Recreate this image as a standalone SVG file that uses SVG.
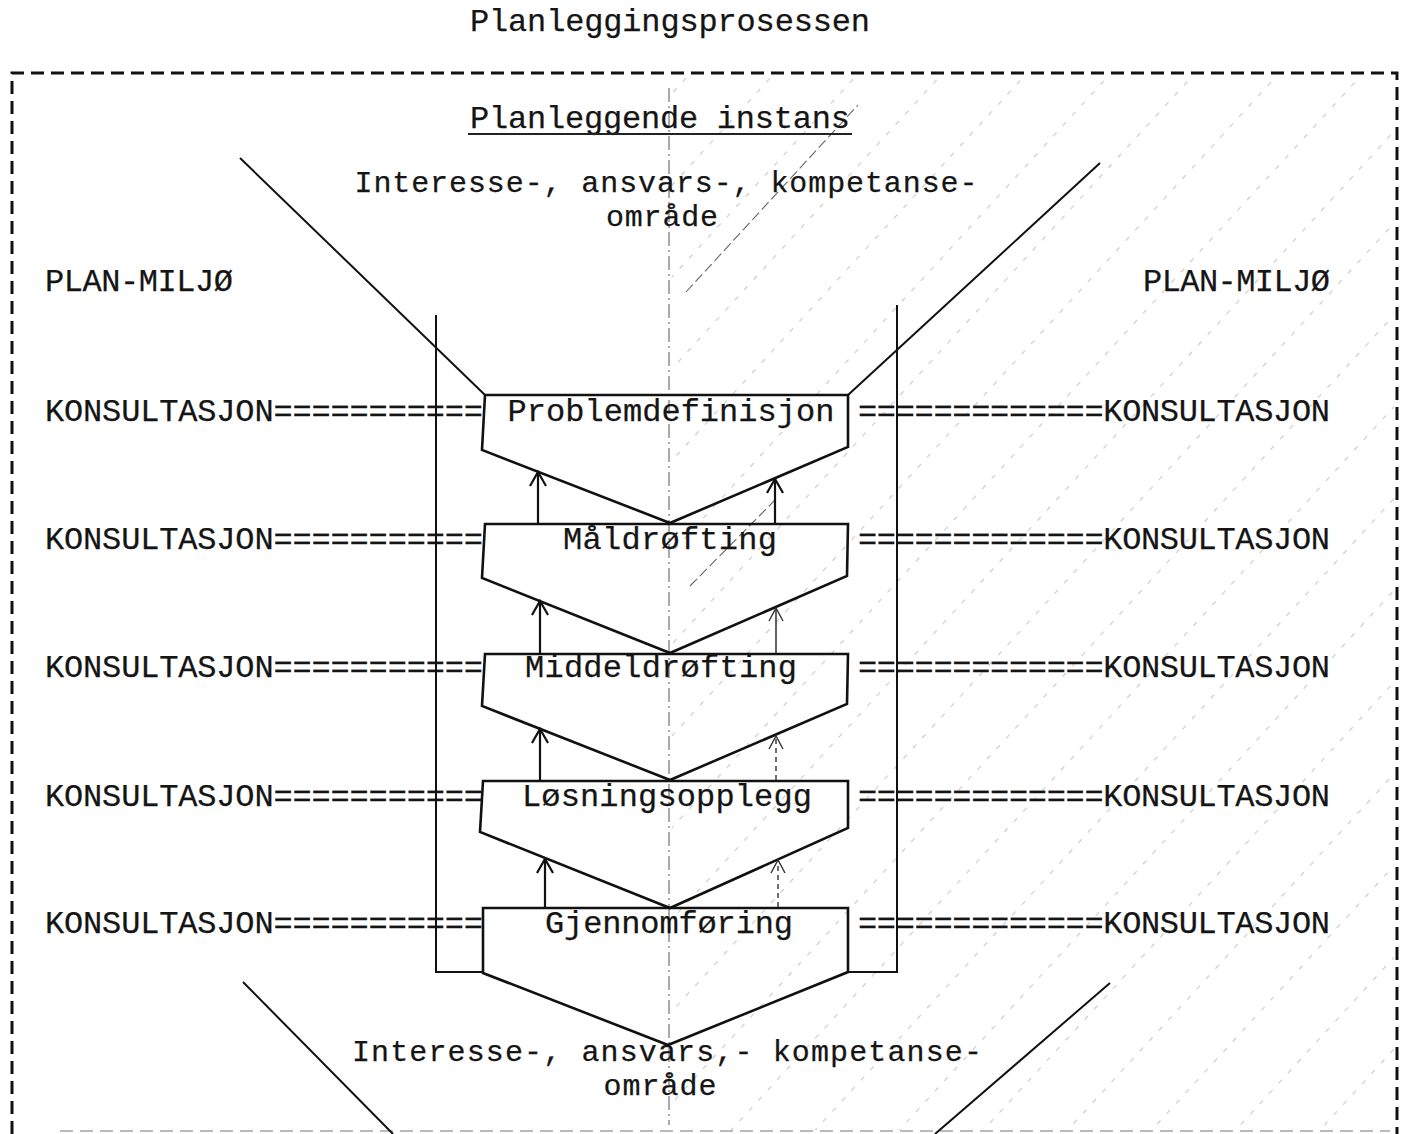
<svg xmlns="http://www.w3.org/2000/svg" width="1408" height="1134" viewBox="0 0 1408 1134">
<defs>
<style>
.t{font-family:"Liberation Mono","DejaVu Sans Mono",monospace;font-size:32px;fill:#151515;stroke:#151515;stroke-width:0.25;}
.t2{font-size:30px;}
.box{fill:none;stroke:#111;stroke-width:2.6;stroke-linejoin:miter;}
.ln{fill:none;stroke:#111;stroke-width:2;}
.arr{fill:none;stroke:#111;stroke-width:2.2;marker-end:url(#ah);}
.arrthin{fill:none;stroke:#222;stroke-width:1.4;marker-end:url(#ahthin);}
.arrdash{fill:none;stroke:#333;stroke-width:1.4;stroke-dasharray:5 4;marker-end:url(#ahthin);}
.border{fill:none;stroke:#111;stroke-width:3;stroke-dasharray:13 7;}
.center{fill:none;stroke:#555;stroke-width:1;stroke-dasharray:14 4 2 4;}
.hatchline{fill:none;stroke:#666;stroke-width:1.1;stroke-dasharray:10 4;}
</style>
<pattern id="hatch" patternUnits="userSpaceOnUse" width="62" height="14" patternTransform="rotate(42.5)">
<rect x="0" y="0" width="1.1" height="5" fill="#777"/>
</pattern>
<marker id="ah" markerUnits="userSpaceOnUse" markerWidth="20" markerHeight="22" refX="16" refY="11" orient="auto">
<path d="M2,3 L16,11 L2,19" fill="none" stroke="#111" stroke-width="2.2"/>
</marker>
<marker id="ahthin" markerUnits="userSpaceOnUse" markerWidth="20" markerHeight="22" refX="16" refY="11" orient="auto">
<path d="M3,4 L16,11 L3,18" fill="none" stroke="#333" stroke-width="1.4"/>
</marker>
</defs>

<rect width="1408" height="1134" fill="#fff"/>

<!-- hatching of right half -->
<g id="hatching">
<rect x="672" y="76" width="722" height="1054" fill="url(#hatch)" opacity="0.4"/>
<line class="hatchline" x1="686" y1="292" x2="858" y2="105"/>
<line class="hatchline" x1="690" y1="586" x2="775" y2="500"/>
</g>

<!-- frame -->
<g id="frame">
<path class="border" d="M12,1134 L12,73 L1397,73 L1397,1134"/>
<line x1="60" y1="1131" x2="1390" y2="1131" stroke="#bbb" stroke-width="2" stroke-dasharray="13 7"/>
<line class="center" x1="669" y1="88" x2="669" y2="1125"/>
</g>

<!-- title and labels -->
<g id="title">
<text class="t" x="670" y="31" text-anchor="middle" textLength="400" lengthAdjust="spacing">Planleggingsprosessen</text>
</g>
<g id="instans">
<text class="t" x="660" y="128" text-anchor="middle" textLength="380" lengthAdjust="spacing">Planleggende instans</text>
<line x1="468" y1="134" x2="852" y2="134" stroke="#222" stroke-width="2"/>
</g>
<g id="omraade-top">
<text class="t t2" x="666" y="192" text-anchor="middle" textLength="623" lengthAdjust="spacing">Interesse-, ansvars-, kompetanse-</text>
<text class="t t2" x="662" y="226" text-anchor="middle" textLength="112" lengthAdjust="spacing">område</text>
</g>
<g id="omraade-bottom">
<text class="t t2" x="667" y="1061" text-anchor="middle" textLength="630" lengthAdjust="spacing">Interesse-, ansvars,- kompetanse-</text>
<text class="t t2" x="660" y="1095" text-anchor="middle" textLength="113" lengthAdjust="spacing">område</text>
</g>
<g id="planmiljo-left">
<text class="t" x="45" y="291" textLength="188" lengthAdjust="spacing">PLAN-MILJØ</text>
</g>
<g id="planmiljo-right">
<text class="t" x="1143" y="291" textLength="187" lengthAdjust="spacing">PLAN-MILJØ</text>
</g>

<!-- konsultasjon rows -->
<g id="konsultasjon-left">
<text class="t" x="45" y="421" textLength="438" lengthAdjust="spacing">KONSULTASJON===========</text>
<text class="t" x="45" y="549" textLength="438" lengthAdjust="spacing">KONSULTASJON===========</text>
<text class="t" x="45" y="677" textLength="438" lengthAdjust="spacing">KONSULTASJON===========</text>
<text class="t" x="45" y="806" textLength="438" lengthAdjust="spacing">KONSULTASJON===========</text>
<text class="t" x="45" y="933" textLength="438" lengthAdjust="spacing">KONSULTASJON===========</text>
</g>
<g id="konsultasjon-right">
<text class="t" x="858" y="421" textLength="472" lengthAdjust="spacing">=============KONSULTASJON</text>
<text class="t" x="858" y="549" textLength="472" lengthAdjust="spacing">=============KONSULTASJON</text>
<text class="t" x="858" y="677" textLength="472" lengthAdjust="spacing">=============KONSULTASJON</text>
<text class="t" x="858" y="806" textLength="472" lengthAdjust="spacing">=============KONSULTASJON</text>
<text class="t" x="858" y="933" textLength="472" lengthAdjust="spacing">=============KONSULTASJON</text>
</g>

<!-- process steps -->
<g id="problemdefinisjon">
<path class="box" d="M485,395 L848,395 L848,447 L670,523 L482,450 Z"/>
<text class="t" x="671" y="421" text-anchor="middle" textLength="327" lengthAdjust="spacing">Problemdefinisjon</text>
</g>
<g id="maldrofting">
<path class="box" d="M485,524 L848,524 L847,576 L670,653 L482,578 Z"/>
<text class="t" x="670" y="549" text-anchor="middle" textLength="214" lengthAdjust="spacing">Måldrøfting</text>
</g>
<g id="middeldrofting">
<path class="box" d="M485,654 L848,654 L847,704 L670,780 L482,706 Z"/>
<text class="t" x="661" y="677" text-anchor="middle" textLength="272" lengthAdjust="spacing">Middeldrøfting</text>
</g>
<g id="losningsopplegg">
<path class="box" d="M483,781 L848,781 L848,828 L670,908 L480,832 Z"/>
<text class="t" x="667" y="806" text-anchor="middle" textLength="290" lengthAdjust="spacing">Løsningsopplegg</text>
</g>
<g id="gjennomforing">
<path class="box" d="M483,908 L848,908 L848,972 L668,1045 L483,973 Z"/>
<text class="t" x="669" y="933" text-anchor="middle" textLength="248" lengthAdjust="spacing">Gjennomføring</text>
</g>

<!-- connectors -->
<g id="connectors">
<line class="ln" x1="240" y1="158" x2="485" y2="395"/>
<line class="ln" x1="1100" y1="163" x2="848" y2="395"/>
<line class="ln" x1="243" y1="982" x2="393" y2="1134"/>
<line class="ln" x1="1110" y1="983" x2="935" y2="1134"/>
<path class="ln" d="M436,315 L436,972 L483,972" stroke-width="2.6"/>
<path class="ln" d="M897,305 L897,972 L848,972" stroke-width="2.6"/>
<line class="arr" x1="538" y1="523" x2="538" y2="472"/>
<line class="arr" x1="775" y1="523" x2="775" y2="479"/>
<line class="arr" x1="540" y1="653" x2="540" y2="601"/>
<line class="arrthin" x1="776" y1="653" x2="776" y2="608"/>
<line class="arr" x1="540" y1="780" x2="540" y2="729"/>
<line class="arrdash" x1="776" y1="780" x2="776" y2="736"/>
<line class="arr" x1="545" y1="907" x2="545" y2="859"/>
<line class="arrdash" x1="778" y1="907" x2="778" y2="860"/>
</g>
</svg>
